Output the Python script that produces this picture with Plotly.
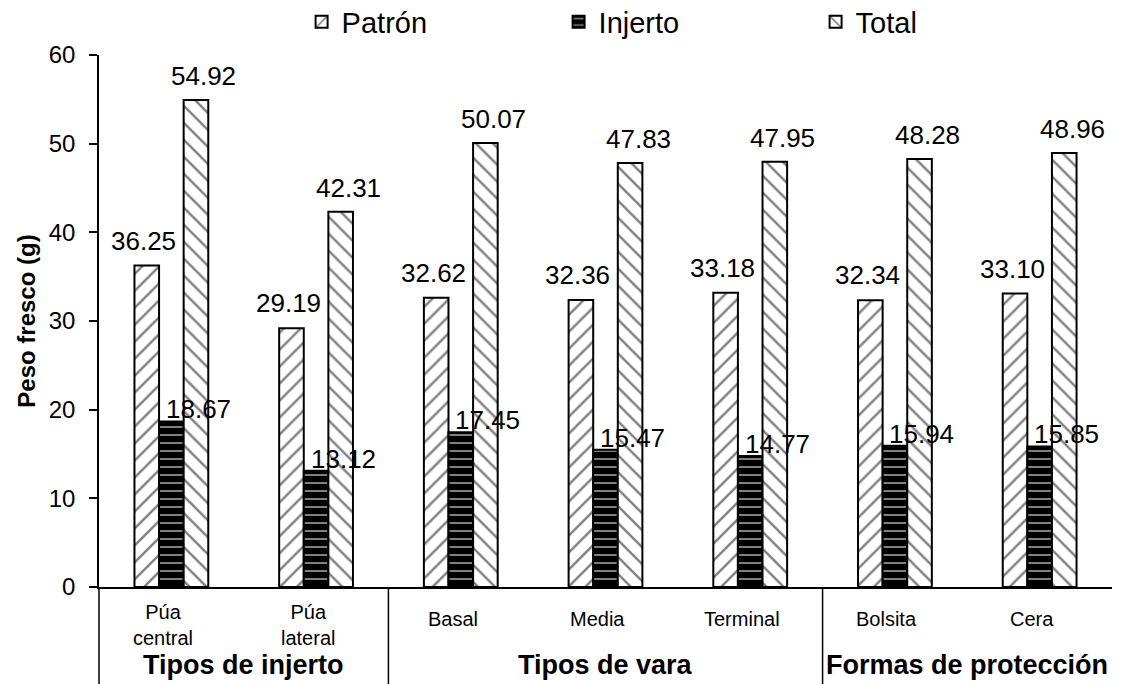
import plotly.graph_objects as go

categories = ["Púa<br>central", "Púa<br>lateral", "Basal", "Media", "Terminal", "Bolsita", "Cera"]
groups = ["Tipos de injerto", "Tipos de vara", "Formas de protección"]
group_spans = [(0, 1), (2, 4), (5, 6)]
patron = [36.25, 29.19, 32.62, 32.36, 33.18, 32.34, 33.10]
injerto = [18.67, 13.12, 17.45, 15.47, 14.77, 15.94, 15.85]
total = [54.92, 42.31, 50.07, 47.83, 47.95, 48.28, 48.96]
y_ticks = [0, 10, 20, 30, 40, 50, 60]

FONT = "Liberation Sans, Arial, sans-serif"
NARROW = "Liberation Sans Narrow, Arial Narrow, Liberation Sans, sans-serif"

xs = list(range(len(categories)))
bargap = 0.49
bw = (1 - bargap) / 3

fig = go.Figure()
series = [
    ("Patrón", patron, dict(color="white", pattern=dict(shape="/", fgcolor="black", bgcolor="white", size=12, solidity=0.2))),
    ("Injerto", injerto, dict(color="black", pattern=dict(shape="-", fgcolor="white", bgcolor="black", size=8, solidity=0.25))),
    ("Total", total, dict(color="white", pattern=dict(shape="\\", fgcolor="black", bgcolor="white", size=12, solidity=0.2))),
]
for name, vals, mk in series:
    mk["line"] = dict(color="black", width=2)
    fig.add_trace(go.Bar(x=xs, y=vals, name=name, marker=mk))

# data labels
label_style = [(-1, -3, 25), (0, 27, 12), (1, 8, 24)]  # (bar index offset, xshift, yshift)
for (name, vals, _), (k, dx, dy) in zip(series, label_style):
    for i, v in enumerate(vals):
        fig.add_annotation(x=i + k * bw, y=v, xref="x", yref="y", text=f"{v:.2f}",
                           showarrow=False, xshift=dx, yshift=dy,
                           font=dict(family=FONT, size=26, color="black"))

# category labels
for i, c in enumerate(categories):
    two = "<br>" in c
    fig.add_annotation(x=i, y=0, xref="x", yref="y", text=c, showarrow=False,
                       yanchor="top", yshift=-12 if two else -19, xshift=-8,
                       font=dict(family=NARROW, size=20, color="black"))

# group labels
for g, (a, b) in zip(groups, group_spans):
    fig.add_annotation(x=(a + b) / 2, y=0, xref="x", yref="y", text=f"<b>{g}</b>", showarrow=False,
                       yanchor="middle", yshift=-78,
                       font=dict(family=FONT, size=27, color="black"))

plot_h = 532
below = -97 / plot_h
# dividers
for a, b in group_spans[:-1]:
    fig.add_shape(type="line", x0=b + 0.5, x1=b + 0.5, xref="x", y0=0, y1=below, yref="paper",
                  line=dict(color="black", width=1.5))
fig.add_shape(type="line", x0=0, x1=0, xref="paper", y0=0, y1=below, yref="paper",
              line=dict(color="black", width=1.5))

fig.update_layout(
    width=1124, height=684,
    margin=dict(l=99, r=12, t=55, b=97, autoexpand=False),
    paper_bgcolor="white", plot_bgcolor="white",
    barmode="group", bargap=bargap, bargroupgap=0,
    font=dict(family=FONT, color="black"),
    showlegend=True,
    legend=dict(orientation="h", x=0.2, xanchor="left", y=1.062, yanchor="middle",
                font=dict(family=FONT, size=29, color="black"),
                entrywidth=212, entrywidthmode="pixels", itemwidth=30,
                bgcolor="rgba(0,0,0,0)"),
    xaxis=dict(range=[-0.5, len(categories) - 0.5], showticklabels=False, ticks="",
               showline=True, linecolor="black", linewidth=1.5, showgrid=False, zeroline=False),
    yaxis=dict(range=[0, 60], tickvals=y_ticks, ticks="outside", ticklen=8, tickwidth=1.5,
               tickcolor="black", showline=True, linecolor="black", linewidth=1.5,
               showgrid=False, zeroline=False, ticklabelstandoff=9,
               tickfont=dict(family=FONT, size=24, color="black"),
               title=dict(text="<b>Peso fresco (g)</b>", standoff=6,
                          font=dict(family=FONT, size=24, color="black"))),
)

fig.write_html("out.html")
